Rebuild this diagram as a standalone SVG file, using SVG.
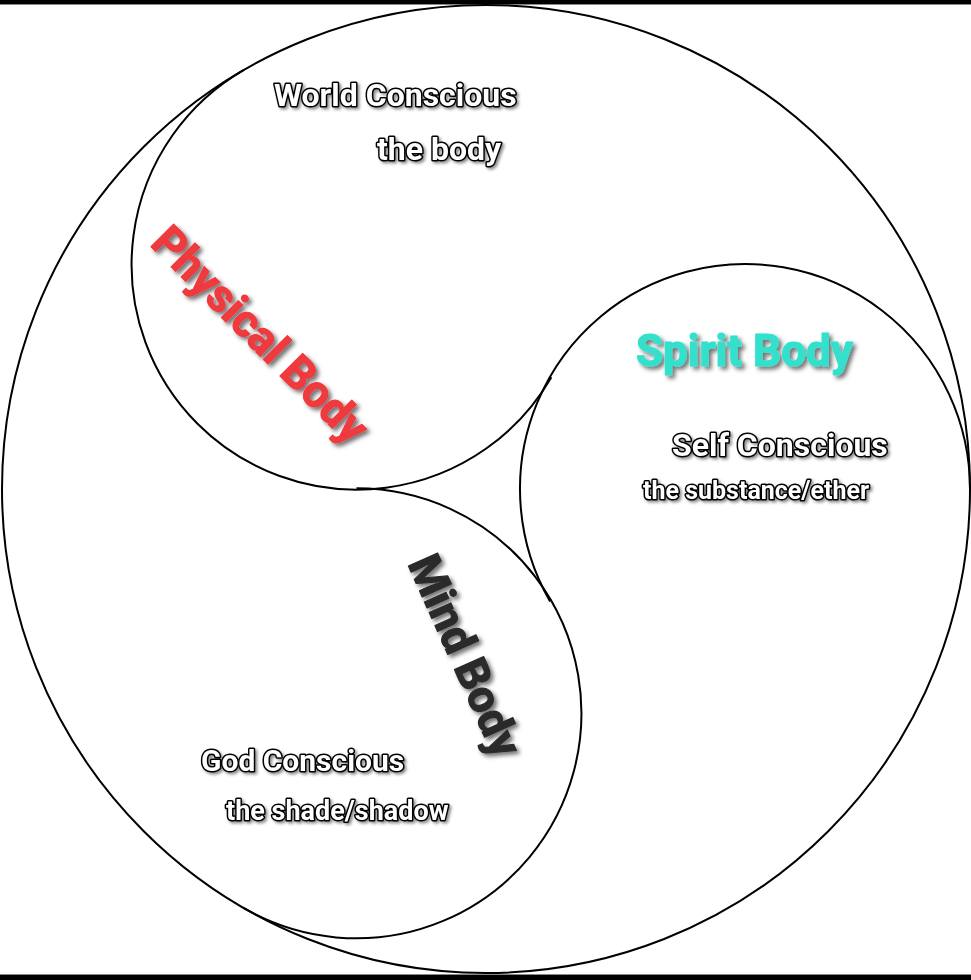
<svg xmlns="http://www.w3.org/2000/svg" width="971" height="980" viewBox="0 0 971 980">
  <defs>
    <filter id="shTitle" x="-20%" y="-20%" width="140%" height="140%">
      <feDropShadow dx="3" dy="3" stdDeviation="2" flood-color="#000" flood-opacity="0.55"/>
    </filter>
    <filter id="shOut" x="-20%" y="-30%" width="140%" height="160%">
      <feDropShadow dx="2" dy="2" stdDeviation="1.5" flood-color="#000" flood-opacity="0.45"/>
    </filter>
  </defs>
  <style>
    .line { fill: none; stroke: #000; stroke-width: 2; }
    .title { font-family: Roboto, "Liberation Sans", sans-serif; font-weight: bold; stroke-width: 1.2; stroke-linejoin: round; }
    .out { font-family: Roboto, "Liberation Sans", sans-serif; font-weight: bold; fill: #fff; stroke: #000; stroke-width: 3; stroke-linejoin: round; paint-order: stroke; }
  </style>
  <rect x="0" y="0" width="971" height="980" fill="#fff"/>
  <rect x="0" y="0" width="971" height="4" fill="#000"/>
  <rect x="0" y="4" width="971" height="1" fill="#888"/>
  <rect x="0" y="975" width="971" height="5" fill="#000"/>
  <rect x="0" y="974" width="971" height="1" fill="#888"/>

  <g id="whole">
    <circle class="line" cx="486" cy="489" r="484"/>
  </g>

  <g id="connectors"/>

  <g id="physical">
    <path class="line" d="M 244 69.8 A 225 225 0 1 0 551.4 377.2"/>
    <g filter="url(#shTitle)">
      <text class="title" font-size="45" fill="#ee3a3e" stroke="#ee3a3e" text-anchor="middle" transform="translate(258,337) rotate(45)" x="0" y="12">Physical Body</text>
    </g>
    <g filter="url(#shOut)">
      <text class="out" x="274" y="106" font-size="32">World Conscious</text>
      <text class="out" x="377" y="160" font-size="32">the body</text>
    </g>
  </g>

  <g id="spirit">
    <path class="line" d="M 970 489 A 225 225 0 1 0 550.1 601.5"/>
    <g filter="url(#shTitle)">
      <text class="title" font-size="44" fill="#33e0cc" stroke="#33e0cc" x="636" y="366">Spirit Body</text>
    </g>
    <g filter="url(#shOut)">
      <text class="out" x="672" y="456" font-size="32">Self Conscious</text>
      <text class="out" x="643" y="499" font-size="25">the substance/ether</text>
    </g>
  </g>

  <g id="mind">
    <path class="line" d="M 244 908.2 A 225 225 0 1 0 356.5 488.3"/>
    <g filter="url(#shTitle)">
      <text class="title" font-size="45" fill="#2b2b2b" stroke="#2b2b2b" text-anchor="middle" transform="translate(462,657) rotate(66)" x="0" y="12">Mind Body</text>
    </g>
    <g filter="url(#shOut)">
      <text class="out" x="201" y="771" font-size="30">God Conscious</text>
      <text class="out" x="226" y="820" font-size="27">the shade/shadow</text>
    </g>
  </g>
</svg>
